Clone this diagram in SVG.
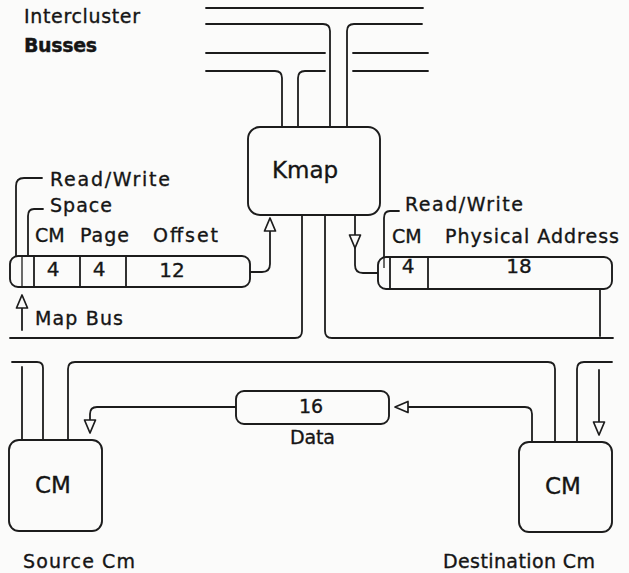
<svg xmlns="http://www.w3.org/2000/svg" width="629" height="573" viewBox="0 0 629 573">
<defs>
<style>
.ln{fill:none;stroke:#1c1c1c;stroke-width:1.8;stroke-linecap:round;stroke-linejoin:round}
.thin{fill:none;stroke:#1c1c1c;stroke-width:1.3}
.box{fill:#fbfbfa;stroke:#1c1c1c;stroke-width:1.9}
.ah{fill:#fbfbfa;stroke:#1c1c1c;stroke-width:1.7;stroke-linejoin:round}
text{font-family:"DejaVu Sans","Liberation Sans",sans-serif;fill:#151515;stroke:#151515;stroke-width:0.35;font-size:19px}
.big{font-size:23px}
.num{font-size:20px}
</style>
<path id="ah" class="ah" d="M0,0 L-5.5,-13 L5.5,-13 Z"/>
</defs>
<rect width="629" height="573" fill="#fbfbfa"/>

<g id="labels">
<text x="24" y="23" textLength="116" lengthAdjust="spacing">Intercluster</text>
<text x="24" y="52" textLength="73" lengthAdjust="spacing" font-weight="bold" font-size="18">Busses</text>
</g>

<g id="connectors">
<path class="ln" d="M206,8 H423"/>
<path class="ln" d="M206,24 H323 Q330,24 330,31 V127"/>
<path class="ln" d="M347,127 V31 Q347,24 354,24 H422"/>
<path class="ln" d="M206,53 H325"/>
<path class="ln" d="M353,53 H428"/>
<path class="ln" d="M206,71 H275 Q282,71 282,78 V127"/>
<path class="ln" d="M298,127 V78 Q298,71 305,71 H325"/>
<path class="ln" d="M353,71 H428"/>
<path class="ln" d="M250,272 H262 Q270,272 270,264 V230"/>
<use href="#ah" transform="translate(270,218) rotate(180)"/>
<path class="ln" d="M355,215 V235"/>
<use href="#ah" transform="translate(355,248)"/>
<path class="ln" d="M355,248 V265 Q355,273 363,273 H378"/>
<path class="ln" d="M22,307 V330"/>
<use href="#ah" transform="translate(22,295) rotate(180)"/>
<path class="ln" d="M10,338 H295 Q302,338 302,331 V215"/>
<path class="ln" d="M325,215 V331 Q325,338 332,338 H613"/>
<path class="ln" d="M600,289 V336"/>
<path class="ln" d="M12,362 H37 Q43,362 43,368 V440"/>
<path class="ln" d="M22,367 V440"/>
<path class="ln" d="M68,440 V369 Q68,362 75,362 H548 Q555,362 555,369 V442"/>
<path class="ln" d="M612,362 H584 Q577,362 577,369 V442"/>
<path class="ln" d="M599,370 V422"/>
<use href="#ah" transform="translate(599,435)"/>
<path class="ln" d="M237,407 H97 Q90,407 90,414 V421"/>
<use href="#ah" transform="translate(90,433)"/>
<path class="ln" d="M532,442 V414 Q532,407 525,407 H408"/>
<use href="#ah" transform="translate(395,407) rotate(90)"/>
</g>

<g id="kmap">
<rect class="box" x="248" y="127" width="132" height="88" rx="12"/>
<text class="big" x="305" y="178" text-anchor="middle">Kmap</text>
</g>

<g id="map-address">
<path class="ln" d="M42,178 H24 Q16,178 16,186 V257"/>
<path class="ln" d="M43,209 H34 Q28,209 28,216 V268"/>
<text x="50" y="186" textLength="120" lengthAdjust="spacing">Read/Write</text>
<text x="50" y="212" textLength="62" lengthAdjust="spacing">Space</text>
<text x="35" y="242">CM</text>
<text x="80" y="242" textLength="49" lengthAdjust="spacing">Page</text>
<text x="153" y="242" textLength="65" lengthAdjust="spacing">Offset</text>
<rect class="box" x="10" y="256" width="240" height="31" rx="8" fill="none"/>
<path class="thin" d="M22,256 V287"/>
<path class="ln" d="M34,256 V287 M80,256 V287 M126,256 V287"/>
<text class="num" x="53" y="276" text-anchor="middle">4</text>
<text class="num" x="99" y="276" text-anchor="middle">4</text>
<text class="num" x="172" y="277" text-anchor="middle">12</text>
<text x="35" y="325" textLength="88" lengthAdjust="spacing">Map Bus</text>
</g>

<g id="physical-address">
<path class="ln" d="M399,211 H390 Q384,211 384,218 V268"/>
<text x="405" y="211" textLength="118" lengthAdjust="spacing">Read/Write</text>
<text x="392" y="243">CM</text>
<text x="445" y="243" textLength="174" lengthAdjust="spacing">Physical Address</text>
<rect class="box" x="378" y="257" width="234" height="32" rx="8"/>
<path class="thin" d="M384,257 V268"/>
<path class="ln" d="M390,257 V289 M428,257 V289"/>
<text class="num" x="408" y="273" text-anchor="middle">4</text>
<text class="num" x="519" y="273" text-anchor="middle">18</text>
</g>

<g id="data">
<rect class="box" x="236" y="391" width="153" height="33" rx="8"/>
<text x="311" y="413" text-anchor="middle" font-size="20">16</text>
<text x="290" y="444" textLength="45" lengthAdjust="spacing">Data</text>
</g>

<g id="source-cm">
<rect class="box" x="9" y="440" width="93" height="91" rx="10"/>
<text class="big" x="53" y="493" text-anchor="middle">CM</text>
<text x="23" y="568" textLength="112" lengthAdjust="spacing">Source Cm</text>
</g>

<g id="destination-cm">
<rect class="box" x="519" y="442" width="93" height="90" rx="10"/>
<text class="big" x="563" y="494" text-anchor="middle">CM</text>
<text x="443" y="568" textLength="152" lengthAdjust="spacing">Destination Cm</text>
</g>
</svg>
